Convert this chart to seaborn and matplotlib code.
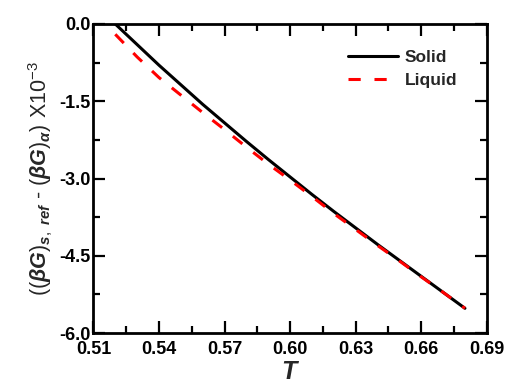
import matplotlib
matplotlib.use("Agg")
import matplotlib.pyplot as plt
from matplotlib.ticker import MultipleLocator, FormatStrFormatter
import seaborn as sns
import pandas as pd

T = [0.52, 0.53, 0.54, 0.55, 0.56, 0.57, 0.58, 0.59, 0.60, 0.61,
     0.62, 0.63, 0.64, 0.65, 0.66, 0.67, 0.68]
solid = [0.00, -0.40, -0.80, -1.18, -1.56, -1.92, -2.28, -2.63, -2.97,
         -3.31, -3.64, -3.96, -4.28, -4.59, -4.90, -5.21, -5.52]
liquid = [-0.20, -0.64, -1.04, -1.38, -1.72, -2.05, -2.39, -2.72, -3.03,
          -3.35, -3.68, -3.99, -4.30, -4.60, -4.91, -5.21, -5.52]
series_names = ["Solid", "Liquid"]

sns.set_style("ticks")
plt.rcParams['font.family'] = ['Liberation Sans', 'DejaVu Sans']
plt.rcParams['mathtext.fontset'] = 'custom'
plt.rcParams['mathtext.it'] = 'Liberation Sans:italic:bold'
plt.rcParams['mathtext.rm'] = 'Liberation Sans'
plt.rcParams['mathtext.bf'] = 'Liberation Sans:bold'

df = pd.DataFrame({
    "T": T + T,
    "value": solid + liquid,
    "series": [series_names[0]] * len(T) + [series_names[1]] * len(T),
})

fig = plt.figure(figsize=(5.05, 3.87), dpi=100)
ax = fig.add_axes([0.185, 0.1395, 0.779, 0.7985])

sns.lineplot(data=df, x="T", y="value", hue="series", style="series",
             palette={"Solid": "black", "Liquid": "#ff0000"},
             dashes={"Solid": "", "Liquid": (4, 4.5)},
             linewidth=2.2, ax=ax, legend=True)

ax.set_xlim(0.51, 0.69)
ax.set_ylim(-6.0, 0.0)
ax.xaxis.set_major_locator(MultipleLocator(0.03))
ax.xaxis.set_minor_locator(MultipleLocator(0.015))
ax.yaxis.set_major_locator(MultipleLocator(1.5))
ax.yaxis.set_minor_locator(MultipleLocator(0.75))
ax.xaxis.set_major_formatter(FormatStrFormatter('%.2f'))
ax.yaxis.set_major_formatter(FormatStrFormatter('%.1f'))

for s in ax.spines.values():
    s.set_visible(True)
    s.set_linewidth(2.0)
    s.set_color('black')

ax.tick_params(which='both', direction='in', top=True, right=True, width=1.6, colors='black')
ax.tick_params(which='major', length=8.5)
ax.tick_params(which='minor', length=5)
ax.tick_params(axis='x', which='major', pad=6)
ax.tick_params(axis='y', which='major', pad=2)
for lab in ax.get_xticklabels() + ax.get_yticklabels():
    lab.set_fontweight('bold')
    lab.set_fontsize(13)

ax.set_xlabel(r"$T$", fontsize=18, labelpad=1)
ax.set_ylabel(r"$((\beta G)_{s,\ ref}$ - $(\beta G)_{\alpha})$ X10$^{-3}$", fontsize=15.5, labelpad=3)

leg = ax.legend(loc='upper right', bbox_to_anchor=(0.955, 0.955), frameon=False,
                handlelength=2.9, handletextpad=0.35,
                prop={'weight': 'bold', 'size': 12.5},
                borderaxespad=0.3, labelspacing=0.45)

fig.savefig("out.png", dpi=100)
